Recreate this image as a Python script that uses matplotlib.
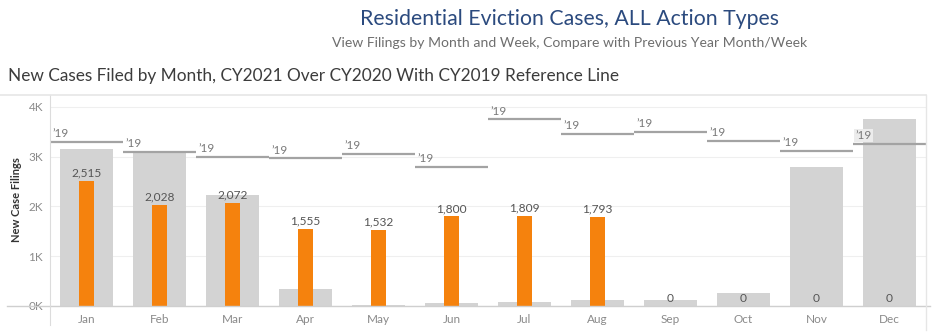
import matplotlib.pyplot as plt
from matplotlib.lines import Line2D

plt.rcParams['font.family'] = ['Lato', 'DejaVu Sans']

# --- Data ---
months = ["Jan", "Feb", "Mar", "Apr", "May", "Jun",
          "Jul", "Aug", "Sep", "Oct", "Nov", "Dec"]
cy2020 = [3150, 3065, 2240, 350, 30, 65, 85, 120, 120, 270, 2800, 3755]
cy2021 = [2515, 2028, 2072, 1555, 1532, 1800, 1809, 1793, 0, 0, 0, 0]
cy2019 = [3300, 3100, 3000, 2965, 3060, 2800, 3750, 3460, 3505, 3320, 3120, 3265]
yticks = [0, 1000, 2000, 3000, 4000]
ytick_labels = ["0K", "1K", "2K", "3K", "4K"]

W, H = 936, 332
fig = plt.figure(figsize=(W / 100, H / 100), dpi=100)

def fx(px):
    return px / W

def fy(py):
    return 1 - py / H

# --- Titles ---
fig.text(fx(570), fy(19), "Residential Eviction Cases, ALL Action Types",
         ha="center", va="center", fontsize=15.3, color="#2b4a7e")
fig.text(fx(570), fy(43), "View Filings by Month and Week, Compare with Previous Year Month/Week",
         ha="center", va="center", fontsize=10.1, color="#6e6e6e")
fig.text(fx(8), fy(76), "New Cases Filed by Month, CY2021 Over CY2020 With CY2019 Reference Line",
         ha="left", va="center", fontsize=12.4, color="#3c3c3c")
fig.text(fx(17), fy(200), "New Case Filings", rotation=90, ha="center", va="center",
         fontsize=8, fontweight="bold", color="#333333")

# --- Axes ---
left, right, top, base = 50, 926, 95, 306
ax = fig.add_axes([fx(left), fy(base), fx(right - left), (base - top) / H])
x = list(range(len(months)))

ax.bar(x, cy2020, width=0.73, color="#d3d3d3", zorder=2)
ax.bar(x, cy2021, width=0.2, color="#f5820d", zorder=3)

for i in x:
    ax.hlines(cy2019[i], i - 0.495, i + 0.495, color="#a3a3a3", lw=1.6, zorder=4)
    bbox = None
    if i == len(months) - 1:
        bbox = dict(boxstyle="square,pad=0.1", fc="#ececec", ec="none")
    ax.text(i - 0.47, cy2019[i] + 55, "\u201919", ha="left", va="bottom",
            fontsize=8.5, color="#7a7a7a", zorder=5, bbox=bbox)
    ax.text(i, cy2021[i] + 45, f"{cy2021[i]:,}", ha="center", va="bottom",
            fontsize=8.6, color="#555555", zorder=5)

ax.set_xlim(-0.5, len(months) - 0.5)
ax.set_ylim(0, 4240)
ax.set_yticks(yticks)
ax.set_yticklabels(ytick_labels)
ax.set_xticks(x)
ax.set_xticklabels(months)
ax.tick_params(axis="both", length=0, labelsize=8.5, labelcolor="#8a8a8a")
ax.tick_params(axis="x", pad=6)
ax.tick_params(axis="y", pad=5)
ax.grid(axis="y", color="#efefef", lw=0.8, zorder=0)
for s in ax.spines.values():
    s.set_visible(False)

# Tableau-style frame lines
fig.add_artist(Line2D([fx(7), fx(930)], [fy(base), fy(base)], color="#cfcfcf", lw=1))
fig.add_artist(Line2D([fx(left), fx(left)], [fy(top), fy(325)], color="#dcdcdc", lw=0.8))
fig.add_artist(Line2D([fx(0), fx(right)], [fy(top), fy(top)], color="#e6e6e6", lw=1.2))
fig.add_artist(Line2D([fx(right), fx(right)], [fy(top), fy(330)], color="#e6e6e6", lw=1))

fig.savefig("out.png", dpi=100)
